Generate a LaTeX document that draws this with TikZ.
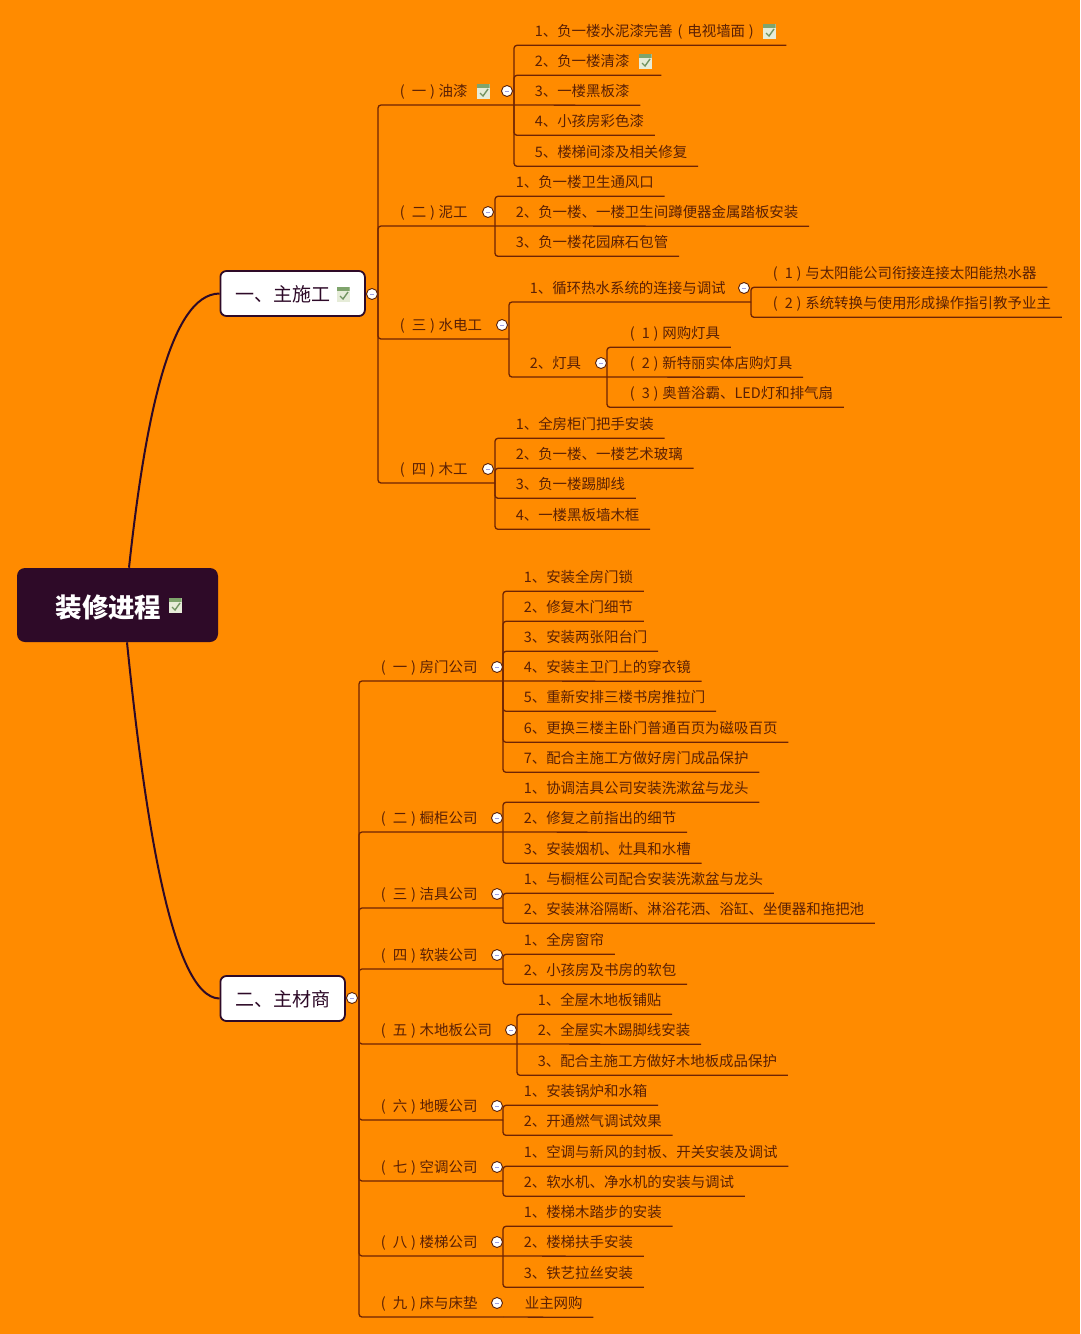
\documentclass[tikz,border=0pt]{standalone}
\usepackage{fontspec}
\setmainfont{Noto Sans CJK SC}
\usepackage{xcolor}
\usetikzlibrary{shapes,positioning,calc}
\definecolor{pagebg}{HTML}{FF8B00}
\definecolor{rootbg}{HTML}{2E0A28}
\definecolor{linecol}{HTML}{6E2404}
\definecolor{textcol}{HTML}{5A2005}
\definecolor{tickbar}{HTML}{7FA46C}
\definecolor{tickbody}{HTML}{E6ECD8}
\newcommand{\lk}{\makebox[13pt][l]{\hspace*{1pt}(}}
\newcommand{\rk}{\makebox[12.5pt][c]{)}}
\tikzset{back/.style={fill=pagebg}}
\tikzset{branch/.style={linecol, line width=1.3pt, rounded corners=3pt}}
\tikzset{spline/.style={rootbg, line width=2pt}}
\begin{document}
\begin{tikzpicture}[x=1pt,y=-1pt,semithick]
\tikzstyle{rootnode} = [rectangle, rounded corners=8pt, fill=rootbg, text=white, inner sep=0pt, minimum width=201pt, minimum height=74pt, text height=25pt, text depth=1pt, font=\fontsize{26.5}{30}\selectfont\bfseries]
\tikzstyle{mainnode} = [rectangle, rounded corners=6pt, draw=rootbg, line width=1.8pt, fill=white, text=rootbg, inner sep=0pt, minimum height=45pt, text height=17.5pt, text depth=1.1pt, anchor=west, font=\fontsize{19}{22}\selectfont]
\tikzstyle{leaf} = [rectangle, anchor=west, inner ysep=0pt, inner xsep=10.5pt, minimum height=28pt, text height=12.7pt, text depth=1.3pt, text=textcol, font=\fontsize{14.45}{17}\selectfont]
\tikzstyle{tick} = [rectangle, fill=tickbody, inner sep=0pt, minimum width=13pt, minimum height=15pt, path picture={
   \fill[tickbar] (path picture bounding box.north west) rectangle ($(path picture bounding box.north east)+(0,4)$);
   \draw[tickbar!90!black, line width=1.4pt] ($(path picture bounding box.center)+(-3,2)$) -- ($(path picture bounding box.center)+(0,5)$) -- ($(path picture bounding box.center)+(5,-2)$);
}]
\tikzstyle{collapse} = [circle, draw=textcol, line width=0.9pt, fill=white, inner sep=0pt, minimum size=11pt, path picture={
   \draw[gray!50!blue!50, line width=0.8pt] ($(path picture bounding box.center)+(-2,0)$) -- ($(path picture bounding box.center)+(2,0)$);
}]

\fill[back] (0,0) rectangle (1080,1334);

\node[rootnode] (ROOT) at (117.5,605) {\hspace*{-18pt}装修进程};
\node[tick] (TICKROOT) at (175,605) {};

\node[mainnode,minimum width=144.5pt] (BUILD) at (219.5,293.5) {\hspace*{14.5pt}一、主施工\hspace*{34pt}};
\node[tick] (TICKBUILD) at (343,294) {};
\node[collapse] (BUILDC) at (372,294) {};
\coordinate (BUILDT) at (378,294);

\node[mainnode,minimum width=124.5pt] (MATERIAL) at (219.5,998.5) {\hspace*{14.5pt}二、主材商\hspace*{14pt}};
\node[collapse] (MATERIALC) at (352,998) {};
\coordinate (MATERIALT) at (359,998);

\node[leaf] (PAINT) at (388,91) {\lk 一\rk 油漆};
\node[tick] (TICKPAINT) at (483,91) {};
\node[collapse] (PAINTC) at (507,91) {};
\coordinate (PAINTS) at (514,105);
\node[leaf] (PAINTA) at (524,31) {1、负一楼水泥漆完善\makebox[14.5pt][c]{(}电视墙面\rk\hspace*{18pt}};
\node[tick] (TICKPAINTA) at (769,31) {};
\node[leaf] (PAINTB) at (524,61) {2、负一楼清漆\hspace*{21pt}};
\node[tick] (TICKPAINTB) at (645,61) {};
\node[leaf] (PAINTD) at (524,91) {3、一楼黑板漆};
\node[leaf] (PAINTE) at (524,121) {4、小孩房彩色漆};
\node[leaf] (PAINTF) at (524,152) {5、楼梯间漆及相关修复};

\node[leaf] (MASON) at (388,212) {\lk 二\rk 泥工};
\node[collapse] (MASONC) at (488,212) {};
\coordinate (MASONS) at (495,226);
\node[leaf] (MASONA) at (505,182) {1、负一楼卫生通风口};
\node[leaf] (MASONB) at (505,212) {2、负一楼、一楼卫生间蹲便器金属踏板安装};
\node[leaf] (MASOND) at (505,242) {3、负一楼花园麻石包管};

\node[leaf] (PLUMB) at (388,325) {\lk 三\rk 水电工};
\node[collapse] (PLUMBC) at (502,325) {};
\coordinate (PLUMBS) at (509,339);
\node[leaf] (HEAT) at (519,288) {1、循环热水系统的连接与调试};
\node[collapse] (HEATC) at (744,288) {};
\coordinate (HEATS) at (751,302);
\node[leaf] (HEATA) at (761,273) {\lk 1\rk 与太阳能公司衔接连接太阳能热水器};
\node[leaf] (HEATB) at (761,303) {\lk 2\rk 系统转换与使用形成操作指引教予业主};
\node[leaf] (LAMP) at (519,363) {2、灯具};
\node[collapse] (LAMPC) at (601,363) {};
\coordinate (LAMPS) at (607,377);
\node[leaf] (LAMPA) at (618,333) {\lk 1\rk 网购灯具};
\node[leaf] (LAMPB) at (618,363) {\lk 2\rk 新特丽实体店购灯具};
\node[leaf] (LAMPD) at (618,393) {\lk 3\rk 奥普浴霸、LED灯和排气扇};

\node[leaf] (WOOD) at (388,469) {\lk 四\rk 木工};
\node[collapse] (WOODC) at (488,469) {};
\coordinate (WOODS) at (495,483);
\node[leaf] (WOODA) at (505,424) {1、全房柜门把手安装};
\node[leaf] (WOODB) at (505,454) {2、负一楼、一楼艺术玻璃};
\node[leaf] (WOODD) at (505,484) {3、负一楼踢脚线};
\node[leaf] (WOODE) at (505,515) {4、一楼黑板墙木框};

\node[leaf] (DOOR) at (369,667) {\lk 一\rk 房门公司};
\node[collapse] (DOORC) at (497,667) {};
\coordinate (DOORS) at (503,681);
\node[leaf] (DOORA) at (513,577) {1、安装全房门锁};
\node[leaf] (DOORB) at (513,607) {2、修复木门细节};
\node[leaf] (DOORD) at (513,637) {3、安装两张阳台门};
\node[leaf] (DOORE) at (513,667) {4、安装主卫门上的穿衣镜};
\node[leaf] (DOORF) at (513,697) {5、重新安排三楼书房推拉门};
\node[leaf] (DOORG) at (513,728) {6、更换三楼主卧门普通百页为磁吸百页};
\node[leaf] (DOORH) at (513,758) {7、配合主施工方做好房门成品保护};

\node[leaf] (CABINET) at (369,818) {\lk 二\rk 橱柜公司};
\node[collapse] (CABINETC) at (497,818) {};
\coordinate (CABINETS) at (503,832);
\node[leaf] (CABINETA) at (513,788) {1、协调洁具公司安装洗漱盆与龙头};
\node[leaf] (CABINETB) at (513,818) {2、修复之前指出的细节};
\node[leaf] (CABINETD) at (513,849) {3、安装烟机、灶具和水槽};

\node[leaf] (SANITARY) at (369,894) {\lk 三\rk 洁具公司};
\node[collapse] (SANITARYC) at (497,894) {};
\coordinate (SANITARYS) at (503,908);
\node[leaf] (SANITARYA) at (513,879) {1、与橱框公司配合安装洗漱盆与龙头};
\node[leaf] (SANITARYB) at (513,909) {2、安装淋浴隔断、淋浴花洒、浴缸、坐便器和拖把池};

\node[leaf] (SOFT) at (369,955) {\lk 四\rk 软装公司};
\node[collapse] (SOFTC) at (497,955) {};
\coordinate (SOFTS) at (503,969);
\node[leaf] (SOFTA) at (513,940) {1、全房窗帘};
\node[leaf] (SOFTB) at (513,970) {2、小孩房及书房的软包};

\node[leaf] (FLOOR) at (369,1030) {\lk 五\rk 木地板公司};
\node[collapse] (FLOORC) at (511,1030) {};
\coordinate (FLOORS) at (517,1044);
\node[leaf] (FLOORA) at (527,1000) {1、全屋木地板铺贴};
\node[leaf] (FLOORB) at (527,1030) {2、全屋实木踢脚线安装};
\node[leaf] (FLOORD) at (527,1061) {3、配合主施工方做好木地板成品保护};

\node[leaf] (HEATING) at (369,1106) {\lk 六\rk 地暖公司};
\node[collapse] (HEATINGC) at (497,1106) {};
\coordinate (HEATINGS) at (503,1120);
\node[leaf] (HEATINGA) at (513,1091) {1、安装锅炉和水箱};
\node[leaf] (HEATINGB) at (513,1121) {2、开通燃气调试效果};

\node[leaf] (AIRCON) at (369,1167) {\lk 七\rk 空调公司};
\node[collapse] (AIRCONC) at (497,1167) {};
\coordinate (AIRCONS) at (503,1181);
\node[leaf] (AIRCONA) at (513,1152) {1、空调与新风的封板、开关安装及调试};
\node[leaf] (AIRCONB) at (513,1182) {2、软水机、净水机的安装与调试};

\node[leaf] (STAIR) at (369,1242) {\lk 八\rk 楼梯公司};
\node[collapse] (STAIRC) at (497,1242) {};
\coordinate (STAIRS) at (503,1256);
\node[leaf] (STAIRA) at (513,1212) {1、楼梯木踏步的安装};
\node[leaf] (STAIRB) at (513,1242) {2、楼梯扶手安装};
\node[leaf] (STAIRD) at (513,1273) {3、铁艺拉丝安装};

\node[leaf] (BED) at (369,1303) {\lk 九\rk 床与床垫};
\node[collapse] (BEDC) at (497,1303) {};
\coordinate (BEDS) at (503,1317);
\node[leaf] (BEDA) at (514,1303) {业主网购};

\path[draw,spline] ([xshift=11.5pt]ROOT.north) .. controls (145,420) and (170,294) .. (BUILD.west);
\path[draw,spline] ([xshift=9.5pt]ROOT.south) .. controls (143,800) and (170,998) .. (MATERIAL.west);

\path[draw,branch] (BUILDT) |- (PAINTS);
\path[draw,branch] (BUILDT) |- (MASONS);
\path[draw,branch] (BUILDT) |- (PLUMBS);
\path[draw,branch] (BUILDT) |- (WOODS);

\path[draw,branch] (PAINTS) |- (PAINTA.south east);
\path[draw,branch] (PAINTS) |- (PAINTB.south east);
\path[draw,branch] (PAINTS) -- (PAINTD.south east);
\path[draw,branch] (PAINTS) |- (PAINTE.south east);
\path[draw,branch] (PAINTS) |- (PAINTF.south east);

\path[draw,branch] (MASONS) |- (MASONA.south east);
\path[draw,branch] (MASONS) -- (MASONB.south east);
\path[draw,branch] (MASONS) |- (MASOND.south east);

\path[draw,branch] (PLUMBS) |- (HEATS);
\path[draw,branch] (PLUMBS) |- (LAMPS);
\path[draw,branch] (HEATS) |- (HEATA.south east);
\path[draw,branch] (HEATS) |- (HEATB.south east);
\path[draw,branch] (LAMPS) |- (LAMPA.south east);
\path[draw,branch] (LAMPS) -- (LAMPB.south east);
\path[draw,branch] (LAMPS) |- (LAMPD.south east);

\path[draw,branch] (WOODS) |- (WOODA.south east);
\path[draw,branch] (WOODS) |- (WOODB.south east);
\path[draw,branch] (WOODS) |- (WOODD.south east);
\path[draw,branch] (WOODS) |- (WOODE.south east);

\path[draw,branch] (MATERIALT) |- (DOORS);
\path[draw,branch] (MATERIALT) |- (CABINETS);
\path[draw,branch] (MATERIALT) |- (SANITARYS);
\path[draw,branch] (MATERIALT) |- (SOFTS);
\path[draw,branch] (MATERIALT) |- (FLOORS);
\path[draw,branch] (MATERIALT) |- (HEATINGS);
\path[draw,branch] (MATERIALT) |- (AIRCONS);
\path[draw,branch] (MATERIALT) |- (STAIRS);
\path[draw,branch] (MATERIALT) |- (BEDS);

\path[draw,branch] (DOORS) |- (DOORA.south east);
\path[draw,branch] (DOORS) |- (DOORB.south east);
\path[draw,branch] (DOORS) |- (DOORD.south east);
\path[draw,branch] (DOORS) -- (DOORE.south east);
\path[draw,branch] (DOORS) |- (DOORF.south east);
\path[draw,branch] (DOORS) |- (DOORG.south east);
\path[draw,branch] (DOORS) |- (DOORH.south east);

\path[draw,branch] (CABINETS) |- (CABINETA.south east);
\path[draw,branch] (CABINETS) -- (CABINETB.south east);
\path[draw,branch] (CABINETS) |- (CABINETD.south east);

\path[draw,branch] (SANITARYS) |- (SANITARYA.south east);
\path[draw,branch] (SANITARYS) |- (SANITARYB.south east);

\path[draw,branch] (SOFTS) |- (SOFTA.south east);
\path[draw,branch] (SOFTS) |- (SOFTB.south east);

\path[draw,branch] (FLOORS) |- (FLOORA.south east);
\path[draw,branch] (FLOORS) -- (FLOORB.south east);
\path[draw,branch] (FLOORS) |- (FLOORD.south east);

\path[draw,branch] (HEATINGS) |- (HEATINGA.south east);
\path[draw,branch] (HEATINGS) |- (HEATINGB.south east);

\path[draw,branch] (AIRCONS) |- (AIRCONA.south east);
\path[draw,branch] (AIRCONS) |- (AIRCONB.south east);

\path[draw,branch] (STAIRS) |- (STAIRA.south east);
\path[draw,branch] (STAIRS) -- (STAIRB.south east);
\path[draw,branch] (STAIRS) |- (STAIRD.south east);

\path[draw,branch] (BEDS) -- (BEDA.south east);
\end{tikzpicture}
\end{document}
